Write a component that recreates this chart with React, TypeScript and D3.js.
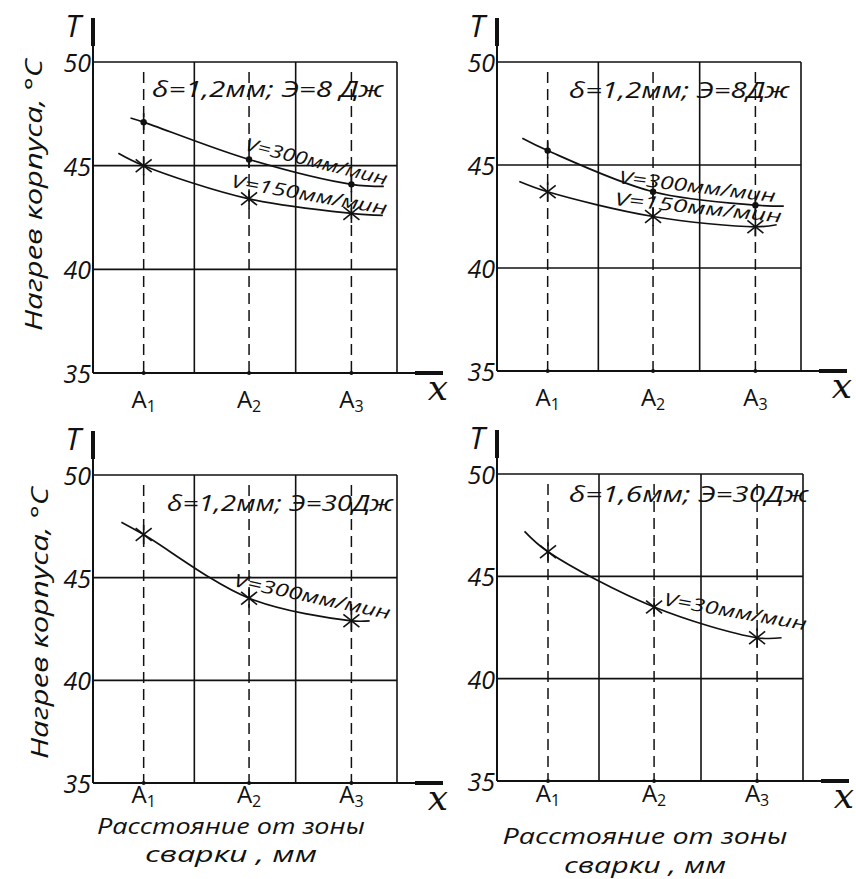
import React from "react";
import * as d3 from "d3";

// ---- data ----
const categories = ["A1", "A2", "A3"];
const catPos = [0.5, 1.54, 2.55];
const yTicks = [35, 40, 45, 50];
const xGrid = [0, 1, 2, 3];

// panel 1: δ=1,2мм; Э=8 Дж
const p1V300 = [47.1, 45.3, 44.1];
const p1V300Ends = [[0.37, 47.3], [2.87, 44.0]];
const p1V150 = [45.0, 43.4, 42.7];
const p1V150Ends = [[0.25, 45.6], [2.86, 42.6]];
// panel 2: δ=1,2мм; Э=8Дж
const p2V300 = [45.7, 43.7, 43.05];
const p2V300Ends = [[0.25, 46.3], [2.83, 43.0]];
const p2V150 = [43.7, 42.5, 42.0];
const p2V150Ends = [[0.22, 44.2], [2.76, 42.1]];
// panel 3: δ=1,2мм; Э=30Дж
const p3V300 = [47.1, 44.0, 42.9];
const p3V300Ends = [[0.28, 47.7], [2.73, 42.9]];
// panel 4: δ=1,6мм; Э=30Дж
const p4V30 = [46.2, 43.5, 42.0];
const p4V30Ends = [[0.27, 47.2], [2.79, 42.0]];

const FONT = "'Open Sans', 'DejaVu Sans', sans-serif";

type Series = {
  values: number[];
  ends: number[][];
  marker: "dot" | "star";
  label: string;
  lx: number; ly: number; angle: number; len: number;
};

type Panel = {
  left: number; top: number; w: number; h: number;
  title: string; tx: number; ty: number; tlen: number;
  series: Series[];
  yTitle?: { x: number; y: number };
  xTitle?: { cx: number; y1: number; y2: number; l1: number; l2: number };
  aLabelDy: number;
};

const panels: Panel[] = [
  {
    left: 93, top: 62, w: 304, h: 311,
    title: "δ=1,2мм; Э=8 Дж", tx: 152, ty: 97, tlen: 231,
    series: [
      { values: p1V300, ends: p1V300Ends, marker: "dot", label: "V=300мм/мин", lx: 316, ly: 163, angle: 14, len: 146 },
      { values: p1V150, ends: p1V150Ends, marker: "star", label: "V=150мм/мин", lx: 309, ly: 196, angle: 10, len: 158 },
    ],
    yTitle: { x: 36, y: 195 },
    aLabelDy: 35,
  },
  {
    left: 497, top: 62, w: 304, h: 309,
    title: "δ=1,2мм;  Э=8Дж", tx: 569, ty: 98, tlen: 220,
    series: [
      { values: p2V300, ends: p2V300Ends, marker: "dot", label: "V=300мм/мин", lx: 697, ly: 188, angle: 7, len: 158 },
      { values: p2V150, ends: p2V150Ends, marker: "star", label: "V=150мм/мин", lx: 698, ly: 209, angle: 6, len: 168 },
    ],
    aLabelDy: 35,
  },
  {
    left: 93, top: 475, w: 304, h: 308,
    title: "δ=1,2мм; Э=30Дж", tx: 167, ty: 511, tlen: 226,
    series: [
      { values: p3V300, ends: p3V300Ends, marker: "star", label: "V=300мм/мин", lx: 312, ly: 598, angle: 12, len: 160 },
    ],
    yTitle: { x: 42, y: 623 },
    xTitle: { cx: 231, y1: 834, y2: 862, l1: 268, l2: 172 },
    aLabelDy: 20,
  },
  {
    left: 497, top: 474, w: 306, h: 307,
    title: "δ=1,6мм; Э=30Дж", tx: 569, ty: 502, tlen: 239,
    series: [
      { values: p4V30, ends: p4V30Ends, marker: "star", label: "V=30мм/мин", lx: 735, ly: 613, angle: 10, len: 145 },
    ],
    xTitle: { cx: 645, y1: 844, y2: 873, l1: 285, l2: 162 },
    aLabelDy: 21,
  },
];

function Marker({ x, y, kind }: { x: number; y: number; kind: string }) {
  if (kind === "dot") {
    return (
      <g>
        <circle cx={x} cy={y} r={3.2} fill="#111" />
        <line x1={x} y1={y - 9} x2={x} y2={y + 8} stroke="#111" strokeWidth={1.6} />
      </g>
    );
  }
  const s = 8;
  return (
    <g stroke="#111" strokeWidth={1.6}>
      <line x1={x - s} y1={y - s * 0.8} x2={x + s} y2={y + s * 0.8} />
      <line x1={x - s} y1={y + s * 0.8} x2={x + s} y2={y - s * 0.8} />
      <line x1={x} y1={y - s * 1.2} x2={x} y2={y + s * 1.2} />
    </g>
  );
}

function PanelView({ p }: { p: Panel }) {
  const x = d3.scaleLinear().domain([0, 3]).range([p.left, p.left + p.w]);
  const y = d3.scaleLinear().domain([35, 50]).range([p.top + p.h, p.top]);
  const line = d3
    .line<number[]>()
    .x((d) => x(d[0]))
    .y((d) => y(d[1]))
    .curve(d3.curveCatmullRom.alpha(0.5));
  const bottom = y(35);
  const right = x(3);
  return (
    <g>
      {/* grid */}
      {yTicks.map((t) => (
        <line key={"h" + t} x1={x(0)} x2={right} y1={y(t)} y2={y(t)} stroke="#111" strokeWidth={1.6} />
      ))}
      {xGrid.slice(1).map((g) => (
        <line key={"v" + g} x1={x(g)} x2={x(g)} y1={y(50)} y2={bottom} stroke="#111" strokeWidth={1.6} />
      ))}
      {/* y axis with arrow */}
      <line x1={x(0)} x2={x(0)} y1={bottom} y2={p.top - 44} stroke="#111" strokeWidth={2} />
      <line x1={x(0)} x2={x(0)} y1={p.top - 44} y2={p.top - 16} stroke="#111" strokeWidth={4} />
      <text x={x(0) - 20} y={p.top - 25} fontFamily={FONT} fontStyle="italic" fontSize={31} textAnchor="middle" fill="#111">T</text>
      {/* x axis with arrow */}
      <line x1={x(0)} x2={right + 46} y1={bottom} y2={bottom} stroke="#111" strokeWidth={1.8} />
      <line x1={right + 18} x2={right + 46} y1={bottom} y2={bottom} stroke="#111" strokeWidth={4} />
      <text x={right + 41} y={bottom + 27} fontFamily="'DejaVu Serif', serif" fontStyle="italic" fontSize={36} textAnchor="middle" fill="#111">x</text>
      {/* tick labels */}
      {yTicks.map((t) => (
        <text key={"t" + t} x={x(0) - 2} y={y(t) + 10} fontFamily={FONT} fontStyle="italic" fontSize={25} textAnchor="end" fill="#111">{t}</text>
      ))}
      {/* dashed category lines */}
      {catPos.map((c, i) => (
        <g key={"c" + i}>
          <line x1={x(c)} x2={x(c)} y1={y(50) + 10} y2={bottom} stroke="#111" strokeWidth={1.5} strokeDasharray="11,6" />
          <circle cx={x(c)} cy={bottom} r={2} fill="#111" />
          <text x={x(c)} y={bottom + p.aLabelDy} fontFamily={FONT} fontSize={24} textAnchor="middle" fill="#111">
            A<tspan fontSize={16} dy={4}>{categories[i].slice(1)}</tspan>
          </text>
        </g>
      ))}
      {/* title */}
      <text x={p.tx} y={p.ty} fontFamily={FONT} fontStyle="italic" fontSize={22} fill="#111" textLength={p.tlen} lengthAdjust="spacingAndGlyphs">{p.title}</text>
      {/* series */}
      {p.series.map((s, k) => {
        const pts: number[][] = [s.ends[0], ...s.values.map((v, i) => [catPos[i], v]), s.ends[1]];
        return (
          <g key={"s" + k}>
            <path d={line(pts) || ""} fill="none" stroke="#111" strokeWidth={1.7} />
            {s.values.map((v, i) => (
              <Marker key={i} x={x(catPos[i])} y={y(v)} kind={s.marker} />
            ))}
            <text
              x={s.lx}
              y={s.ly}
              transform={`rotate(${s.angle} ${s.lx} ${s.ly})`}
              fontFamily={FONT}
              fontStyle="italic"
              fontSize={18}
              textAnchor="middle"
              dominantBaseline="middle"
              fill="#111"
              textLength={s.len}
              lengthAdjust="spacingAndGlyphs"
            >
              {s.label}
            </text>
          </g>
        );
      })}
      {p.yTitle && (
        <text
          x={p.yTitle.x}
          y={p.yTitle.y}
          transform={`rotate(-90 ${p.yTitle.x} ${p.yTitle.y})`}
          fontFamily={FONT}
          fontStyle="italic"
          fontSize={24}
          textAnchor="middle"
          dominantBaseline="middle"
          fill="#111"
          textLength={272}
          lengthAdjust="spacingAndGlyphs"
        >
          Нагрев корпуса, °C
        </text>
      )}
      {p.xTitle && (
        <g>
          <text x={p.xTitle.cx} y={p.xTitle.y1} fontFamily={FONT} fontStyle="italic" fontSize={21} textAnchor="middle" fill="#111" textLength={p.xTitle.l1} lengthAdjust="spacingAndGlyphs">Расстояние от зоны</text>
          <text x={p.xTitle.cx} y={p.xTitle.y2} fontFamily={FONT} fontStyle="italic" fontSize={21} textAnchor="middle" fill="#111" textLength={p.xTitle.l2} lengthAdjust="spacingAndGlyphs">сварки , мм</text>
        </g>
      )}
    </g>
  );
}

export default function App() {
  return (
    <svg width={856} height={879} style={{ position: "absolute", left: 0, top: 0, background: "#fff" }}>
      <rect width={856} height={879} fill="#fff" />
      {panels.map((p, i) => (
        <PanelView key={i} p={p} />
      ))}
    </svg>
  );
}
